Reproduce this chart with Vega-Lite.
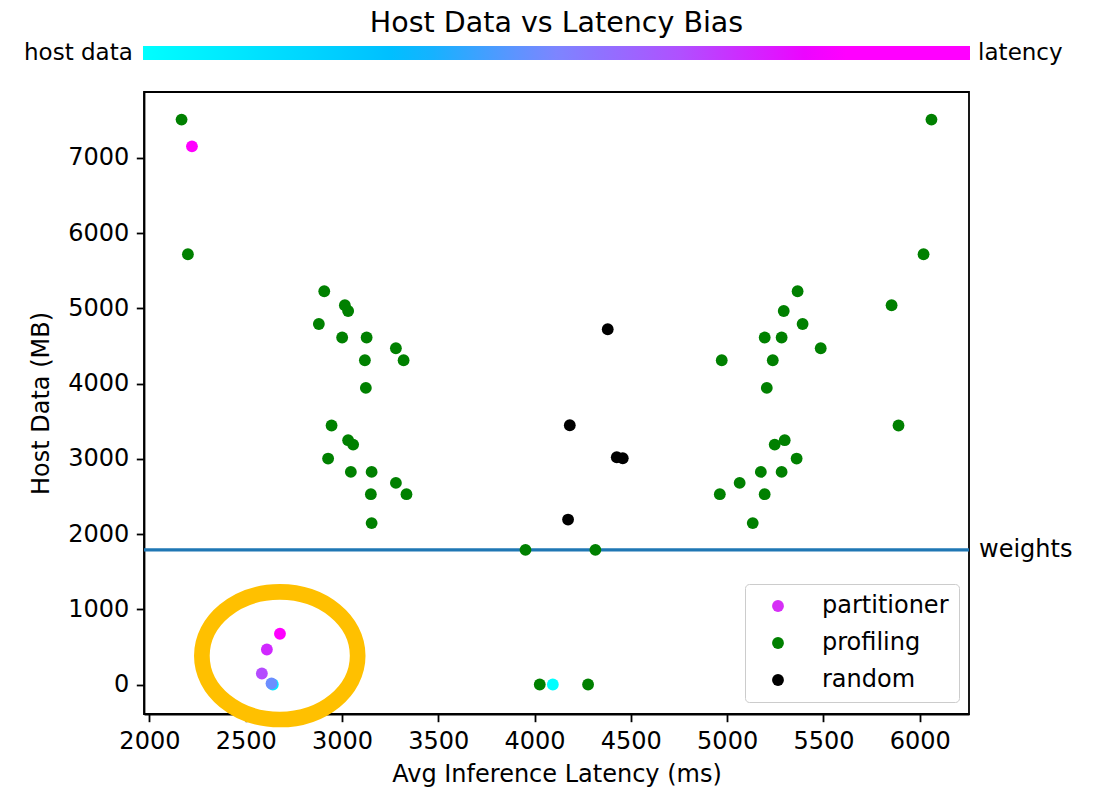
{
  "$schema": "https://vega.github.io/schema/vega-lite/v6.json",
  "width": 825,
  "height": 622,
  "autosize": "none",
  "padding": {"left": 144, "top": 92, "right": 127, "bottom": 75},
  "background": "white",
  "title": {"text": "Host Data vs Latency Bias", "fontSize": 28.5, "font": "DejaVu Sans", "fontWeight": "normal", "color": "black", "anchor": "middle", "frame": "group", "offset": 9},
  "config": {
    "font": "DejaVu Sans",
    "view": {"stroke": "black", "strokeWidth": 1.8},
    "axis": {"domainColor": "black", "domainWidth": 1.8, "tickColor": "black", "tickWidth": 1.8, "tickSize": 7.7, "labelFontSize": 24, "labelColor": "black", "labelFont": "DejaVu Sans", "labelPadding": 7.5, "titleFontSize": 24, "titleFontWeight": "normal", "titleColor": "black", "titleFont": "DejaVu Sans", "grid": false, "labelFlush": false, "labelOverlap": false, "labelBound": false}
  },
  "datasets": {
    "pts": [
      {"method": "profiling", "latency": 2167, "host": 7510},
      {"method": "profiling", "latency": 2200, "host": 5720},
      {"method": "profiling", "latency": 2908, "host": 5228},
      {"method": "profiling", "latency": 3015, "host": 5042},
      {"method": "profiling", "latency": 3032, "host": 4966},
      {"method": "profiling", "latency": 2880, "host": 4793},
      {"method": "profiling", "latency": 3001, "host": 4613},
      {"method": "profiling", "latency": 3128, "host": 4613},
      {"method": "profiling", "latency": 3280, "host": 4470},
      {"method": "profiling", "latency": 3320, "host": 4311},
      {"method": "profiling", "latency": 3119, "host": 4311},
      {"method": "profiling", "latency": 3124, "host": 3943},
      {"method": "profiling", "latency": 2946, "host": 3443},
      {"method": "profiling", "latency": 3032, "host": 3248},
      {"method": "profiling", "latency": 3058, "host": 3190},
      {"method": "profiling", "latency": 2928, "host": 3004},
      {"method": "profiling", "latency": 3046, "host": 2826},
      {"method": "profiling", "latency": 3154, "host": 2826},
      {"method": "profiling", "latency": 3280, "host": 2680},
      {"method": "profiling", "latency": 3335, "host": 2530},
      {"method": "profiling", "latency": 3150, "host": 2530},
      {"method": "profiling", "latency": 3154, "host": 2146},
      {"method": "profiling", "latency": 3953, "host": 1790},
      {"method": "profiling", "latency": 4316, "host": 1790},
      {"method": "profiling", "latency": 4027, "host": 0},
      {"method": "profiling", "latency": 4278, "host": 0},
      {"method": "profiling", "latency": 6061, "host": 7510},
      {"method": "profiling", "latency": 6020, "host": 5720},
      {"method": "profiling", "latency": 5854, "host": 5042},
      {"method": "profiling", "latency": 5366, "host": 5228},
      {"method": "profiling", "latency": 5294, "host": 4966},
      {"method": "profiling", "latency": 5392, "host": 4793},
      {"method": "profiling", "latency": 5195, "host": 4613},
      {"method": "profiling", "latency": 5283, "host": 4613},
      {"method": "profiling", "latency": 5486, "host": 4470},
      {"method": "profiling", "latency": 4972, "host": 4311},
      {"method": "profiling", "latency": 5237, "host": 4311},
      {"method": "profiling", "latency": 5206, "host": 3943},
      {"method": "profiling", "latency": 5890, "host": 3443},
      {"method": "profiling", "latency": 5299, "host": 3248},
      {"method": "profiling", "latency": 5247, "host": 3190},
      {"method": "profiling", "latency": 5361, "host": 3004},
      {"method": "profiling", "latency": 5065, "host": 2680},
      {"method": "profiling", "latency": 5175, "host": 2826},
      {"method": "profiling", "latency": 5283, "host": 2826},
      {"method": "profiling", "latency": 4962, "host": 2530},
      {"method": "profiling", "latency": 5195, "host": 2530},
      {"method": "profiling", "latency": 5133, "host": 2146},
      {"method": "random", "latency": 4380, "host": 4723},
      {"method": "random", "latency": 4183, "host": 3447},
      {"method": "random", "latency": 4427, "host": 3021},
      {"method": "random", "latency": 4458, "host": 3008},
      {"method": "random", "latency": 4174, "host": 2193},
      {"method": "partitioner", "latency": 2221, "host": 7155, "bias": 1.0},
      {"method": "partitioner", "latency": 4095, "host": 0, "bias": 0.0},
      {"method": "partitioner", "latency": 2641, "host": 0, "bias": 0.1},
      {"method": "partitioner", "latency": 2634, "host": 13, "bias": 0.47},
      {"method": "partitioner", "latency": 2584, "host": 146, "bias": 0.66},
      {"method": "partitioner", "latency": 2610, "host": 465, "bias": 0.73},
      {"method": "partitioner", "latency": 2678, "host": 675, "bias": 0.9}
    ],
    "weights": [{"host": 1790, "label": "weights"}],
    "highlight": [{"latency": 2677, "host": 383}]
  },
  "layer": [
    {
      "data": {"name": "weights"},
      "mark": {"type": "rule", "color": "#1f77b4", "strokeWidth": 3.3},
      "encoding": {
        "y": {"field": "host", "type": "quantitative", "scale": {"domain": [-392, 7877], "nice": false, "zero": false}}
      }
    },
    {
      "data": {"name": "weights"},
      "mark": {"type": "text", "align": "left", "baseline": "middle", "dx": 10, "fontSize": 24, "color": "black", "font": "DejaVu Sans"},
      "encoding": {
        "x": {"datum": 6256, "type": "quantitative", "scale": {"domain": [1972, 6256], "nice": false, "zero": false}},
        "y": {"field": "host", "type": "quantitative", "scale": {"domain": [-392, 7877], "nice": false, "zero": false}},
        "text": {"field": "label"}
      }
    },
    {
      "data": {"name": "pts"},
      "transform": [{"filter": "datum.method != 'partitioner'"}],
      "mark": {"type": "circle", "size": 140, "opacity": 1},
      "encoding": {
        "x": {"field": "latency", "type": "quantitative", "scale": {"domain": [1972, 6256], "nice": false, "zero": false},
              "axis": {"values": [2000, 2500, 3000, 3500, 4000, 4500, 5000, 5500, 6000], "format": "d", "title": "Avg Inference Latency (ms)", "titlePadding": 9}},
        "y": {"field": "host", "type": "quantitative", "scale": {"domain": [-392, 7877], "nice": false, "zero": false},
              "axis": {"values": [0, 1000, 2000, 3000, 4000, 5000, 6000, 7000], "format": "d", "title": "Host Data (MB)", "titlePadding": 14}},
        "color": {"field": "method", "type": "nominal",
                  "scale": {"domain": ["partitioner", "profiling", "random"], "range": ["#d62ef6", "#008000", "#000000"]},
                  "legend": {"orient": "none", "legendX": 601, "legendY": 492, "title": null, "fillColor": "white", "strokeColor": "#cccccc", "cornerRadius": 4, "padding": 10, "symbolOffset": 11, "labelOffset": 32, "labelFontSize": 24, "labelColor": "black", "labelFont": "DejaVu Sans", "rowPadding": 13, "symbolSize": 140, "symbolType": "circle", "symbolStrokeWidth": 0}}
      }
    },
    {
      "data": {"name": "pts"},
      "transform": [{"filter": "datum.method == 'partitioner'"}],
      "mark": {"type": "circle", "size": 140, "opacity": 1},
      "encoding": {
        "x": {"field": "latency", "type": "quantitative", "scale": {"domain": [1972, 6256], "nice": false, "zero": false}},
        "y": {"field": "host", "type": "quantitative", "scale": {"domain": [-392, 7877], "nice": false, "zero": false}},
        "color": {"field": "bias", "type": "quantitative",
                  "scale": {"domain": [0, 0.32, 0.49, 0.65, 0.81, 0.83, 1], "range": ["#00ffff", "#00bbff", "#7a88ff", "#b050ff", "#f000ff", "#ff00ff", "#ff00ff"], "interpolate": "rgb"},
                  "legend": {"orient": "none", "legendX": -120, "legendY": -46, "direction": "horizontal", "gradientLength": 827, "gradientThickness": 14, "gradientStrokeWidth": 0,
                             "title": "host data", "titleOrient": "left", "titleAnchor": "middle", "titleFontSize": 23, "titleFontWeight": "normal", "titleColor": "black", "titleFont": "DejaVu Sans", "titlePadding": 10,
                             "values": [1.112], "labelExpr": "'latency'", "labelOffset": -18, "labelFontSize": 23, "labelColor": "black", "labelFont": "DejaVu Sans", "labelLimit": 200, "labelOverlap": false, "padding": 0}}
      }
    },
    {
      "data": {"name": "highlight"},
      "mark": {"type": "point", "filled": false, "shape": "M 1 0 C 1 0.4523 0.5523 0.819 0 0.819 C -0.5523 0.819 -1 0.4523 -1 0 C -1 -0.4523 -0.5523 -0.819 0 -0.819 C 0.5523 -0.819 1 -0.4523 1 0 Z", "size": 24274, "stroke": "#ffc000", "strokeWidth": 15.7, "opacity": 1},
      "encoding": {
        "x": {"field": "latency", "type": "quantitative", "scale": {"domain": [1972, 6256], "nice": false, "zero": false}},
        "y": {"field": "host", "type": "quantitative", "scale": {"domain": [-392, 7877], "nice": false, "zero": false}}
      }
    }
  ],
  "resolve": {"scale": {"color": "independent"}, "legend": {"color": "independent"}}
}
